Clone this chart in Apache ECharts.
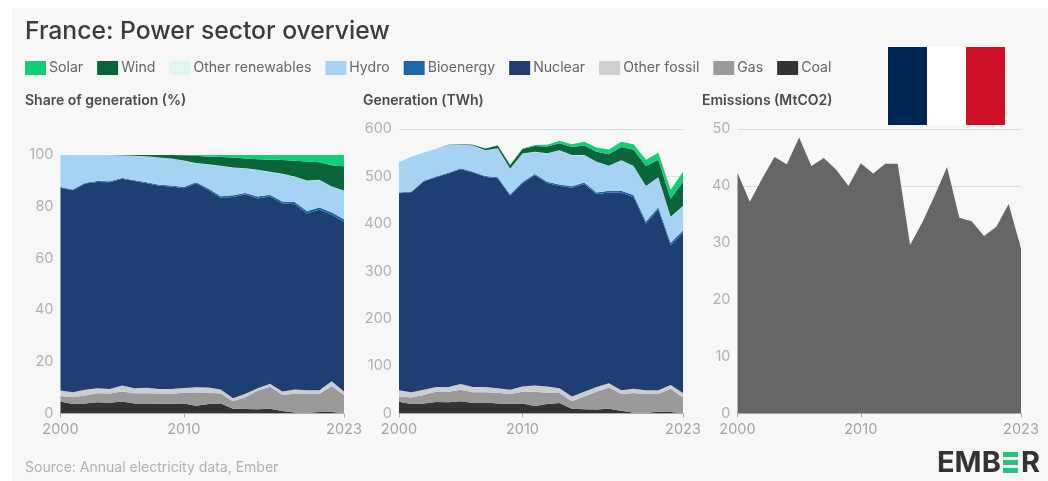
<!DOCTYPE html>
<html>
<head>
<meta charset="utf-8">
<style>html,body{margin:0;padding:0;background:#fff}#c{width:1048px;height:481px}</style>
<script src="https://cdn.jsdelivr.net/npm/echarts@6/dist/echarts.min.js"></script>
</head>
<body>
<div id="c"></div>
<script>
const years = ['2000','2001','2002','2003','2004','2005','2006','2007','2008','2009','2010','2011','2012','2013','2014','2015','2016','2017','2018','2019','2020','2021','2022','2023'];
const shownYears = ['2000','2010','2023'];
const legendNames = ['Solar','Wind','Other renewables','Hydro','Bioenergy','Nuclear','Other fossil','Gas','Coal'];
const stackOrder = ['Coal','Gas','Other fossil','Nuclear','Bioenergy','Hydro','Other renewables','Wind','Solar'];
const colours = {Solar:'#12cf75',Wind:'#0a653a','Other renewables':'#dff7ee',Hydro:'#a6d3f3',Bioenergy:'#1f66a8',Nuclear:'#1f3e72','Other fossil':'#cdcdcd',Gas:'#9a9a9a',Coal:'#333333'};

// Share of generation (%)
const shareCoal = [4.6,3.7,3.9,4.4,4.2,4.6,3.9,3.9,3.8,3.8,3.9,3,3.7,3.9,1.8,1.7,1.6,1.8,1,.4,.3,.6,.6,.2];
const shareGas = [2.2,2.6,3.1,3.4,3.5,3.9,3.9,3.9,3.9,3.8,4.1,5.1,4.3,3.8,2.9,4.6,7.3,8.5,6.2,7.2,7.2,6.9,9.9,7];
const shareOtherFossil = [2.1,1.9,2.2,2,1.8,2.3,2,2.2,1.8,1.9,1.9,2.1,2.1,1.6,1.2,1.3,.9,1.2,1.3,1.7,1.5,1.5,2,1.3];
const shareNuclear = [78.4,78.2,79.8,79.8,80,80,80.1,79.1,78.6,78.3,77.2,78.8,76.4,74.1,77.9,77.1,73.4,72.4,72.7,71.6,68.4,69.8,64.4,65.6];
const shareBio = [.3,.3,.3,.3,.3,.3,.3,.4,.4,.4,.5,.5,.5,.6,.6,.6,.7,.7,.8,.9,.9,.9,1,1];
const shareHydro = [12.4,13.3,10.7,10.1,10.2,8.8,9.5,10,10.5,10.4,10.2,7.3,9.3,11.7,10.7,9.5,10.3,8.8,10.6,9.8,11.7,10.6,9.8,11.1];
const shareOtherRen = [0,0,0,0,0,0,0,0,0,0,.1,.1,.1,.1,.1,.1,.1,.1,.1,.1,.1,.1,.1,.1];
const shareWind = [0,0,0,0,0,.1,.3,.5,1,1.4,2,2.8,2.9,3.4,3.8,3.7,4.1,4.7,5.4,6.1,7.4,6.8,8.2,9.3];
const shareSolar = [0,0,0,0,0,0,0,0,0,0,.1,.3,.7,.8,1,1.4,1.6,1.8,1.9,2.2,2.5,2.8,4,4.4];

// Generation (TWh)
const genCoal = [25,20,21,24,23.5,26,22,23,21,20,21,16,20,22,10,9,8.5,10,5.7,1.6,1.5,3.5,3,1];
const genGas = [11,14,18,22,22.5,24,23,22,23,21,25,30,24,21,16,27,37.5,45,35.3,41.4,39.5,37.5,49,33];
const genOtherFossil = [13,11,11,10,10,12,11,11,9,9,11,13,13,10,10,10,10,9,8,9,8,8,8,9];
const genNuclear = [415.5,421.5,439.5,442.5,450,453.2,452.2,443,443,410,428.5,443.5,429.2,427,440,437.8,406.5,402,416.5,404.2,351.2,381,295,338];
const genBio = [1.5,1.5,1.5,1.5,1.5,1.8,1.8,2,2,2,2.5,2.5,2.8,3,3,3.2,3.5,4,4.5,4.8,4.8,5,5,5];
const genHydro = [64.5,73.5,59.5,58.5,58.5,50,54.5,53.5,60.8,53.6,60,46.5,59.5,71.5,65.5,57.5,64.5,52,63.5,60.5,74.5,62.5,54.5,51.5];
const genOtherRen = [.5,.5,.5,.5,.5,.5,.5,.5,.5,.5,.5,.5,.5,.5,.5,.5,.5,.5,.5,.5,.5,.5,.5,.5];
const genWind = [0,0,0,0,.5,1,2,4,5.7,7.9,9.5,12,14,15,17,20,21,24.5,28,34,42,37,38,50];
const genSolar = [0,0,0,0,0,0,0,0,0,0,1,2,4,5,6,8,9,10,11,12,13,15,19,22];

// Emissions (MtCO2)
const emissions = [42.3,37.2,41.3,45.1,43.8,48.5,43.5,44.9,42.9,40,44,42.2,43.9,43.9,29.6,33.6,38.3,43.3,34.4,33.8,31.2,32.8,36.8,29];

const shareData = {Coal:shareCoal,Gas:shareGas,'Other fossil':shareOtherFossil,Nuclear:shareNuclear,Bioenergy:shareBio,Hydro:shareHydro,'Other renewables':shareOtherRen,Wind:shareWind,Solar:shareSolar};
const genData = {Coal:genCoal,Gas:genGas,'Other fossil':genOtherFossil,Nuclear:genNuclear,Bioenergy:genBio,Hydro:genHydro,'Other renewables':genOtherRen,Wind:genWind,Solar:genSolar};

const FONT = 'Inter, "Noto Sans", sans-serif';
const showYear = (i, v) => shownYears.includes(v);
const xAxis = g => ({
  type:'category', gridIndex:g, data:years, boundaryGap:false, z:5,
  axisLine:{lineStyle:{color:'#aaaaaa',width:1}},
  axisTick:{interval:showYear,length:4,lineStyle:{color:'#aaaaaa'}},
  axisLabel:{interval:showYear,color:'#a3a3a3',fontSize:14.5,fontFamily:FONT,margin:9,showMaxLabel:true,hideOverlap:false},
  splitLine:{show:false}
});
const yAxis = (g,max,interval) => ({
  type:'value', gridIndex:g, min:0, max, interval,
  axisLine:{show:false}, axisTick:{show:false},
  axisLabel:{color:'#b0b0b0',fontSize:14.5,fontFamily:FONT,margin:7,padding:[6,0,0,0]},
  splitLine:{show:true,lineStyle:{color:'#dcdcdc',width:1}}
});
const areaSeries = (name,data,g,stack,colour) => ({
  name,type:'line',stack,xAxisIndex:g,yAxisIndex:g,data,symbol:'none',smooth:false,
  lineStyle:{width:0},areaStyle:{color:colour,opacity:1},itemStyle:{color:colour},silent:true
});
const series = [
  ...stackOrder.map(n => areaSeries(n,shareData[n],0,'share',colours[n])),
  ...stackOrder.map(n => areaSeries(n,genData[n],1,'gen',colours[n])),
  areaSeries('Emissions',emissions,2,'em','#666666')
];
const panelTitle = (text,left) => ({text,left,top:94,padding:0,textStyle:{fontFamily:FONT,fontSize:14,fontWeight:600,color:'#4a4a4a'}});

const option = {
  animation:false,
  backgroundColor:'#ffffff',
  title:[
    {text:'France: Power sector overview',left:25,top:19,padding:0,textStyle:{fontFamily:FONT,fontSize:24.7,fontWeight:500,color:'#3c3c3c'}},
    panelTitle('Share of generation (%)',25),
    panelTitle('Generation (TWh)',363),
    panelTitle('Emissions (MtCO2)',702),
    {text:'Source: Annual electricity data, Ember',left:25,top:461,padding:0,textStyle:{fontFamily:FONT,fontSize:14,fontWeight:400,color:'#b0b0b0'}}
  ],
  legend:{
    data:legendNames.map(name=>({name,icon:'rect'})),left:25,top:61,padding:0,itemWidth:21,itemHeight:14,itemGap:14,
    selectedMode:false,
    textStyle:{fontFamily:FONT,fontSize:14.1,color:'#666666',padding:[0,0,0,-2]}
  },
  grid:[
    {left:60.5,width:283.5,top:155,height:258.5,containLabel:false},
    {left:399,width:284,top:129,height:284.5,containLabel:false},
    {left:737.5,width:283.5,top:129,height:284.5,containLabel:false}
  ],
  xAxis:[xAxis(0),xAxis(1),xAxis(2)],
  yAxis:[yAxis(0,100,20),yAxis(1,600,100),yAxis(2,50,10)],
  series,
  graphic:[
    {type:'rect',z:-10,silent:true,shape:{x:12,y:8,width:1036,height:473},style:{fill:'#f7f7f7'}},
    {type:'rect',z:20,silent:true,shape:{x:888,y:47,width:39,height:78},style:{fill:'#002654'}},
    {type:'rect',z:20,silent:true,shape:{x:927,y:47,width:39,height:78},style:{fill:'#ffffff'}},
    {type:'rect',z:20,silent:true,shape:{x:966,y:47,width:39,height:78},style:{fill:'#ce1126'}},
    {type:'text',z:20,silent:true,style:{x:937,y:449,text:'EMB',fontFamily:FONT,fontSize:29,fontWeight:700,fill:'#333333'}},
    {type:'rect',z:20,silent:true,shape:{x:1003,y:452,width:15,height:5},style:{fill:'#1fc57e'}},
    {type:'rect',z:20,silent:true,shape:{x:1003,y:460,width:15,height:5},style:{fill:'#1fc57e'}},
    {type:'rect',z:20,silent:true,shape:{x:1003,y:468,width:15,height:5},style:{fill:'#1fc57e'}},
    {type:'text',z:20,silent:true,style:{x:1021,y:449,text:'R',fontFamily:FONT,fontSize:29,fontWeight:700,fill:'#333333'}}
  ]
};
echarts.init(document.getElementById('c'),null,{renderer:'canvas'}).setOption(option);
</script>
</body>
</html>
